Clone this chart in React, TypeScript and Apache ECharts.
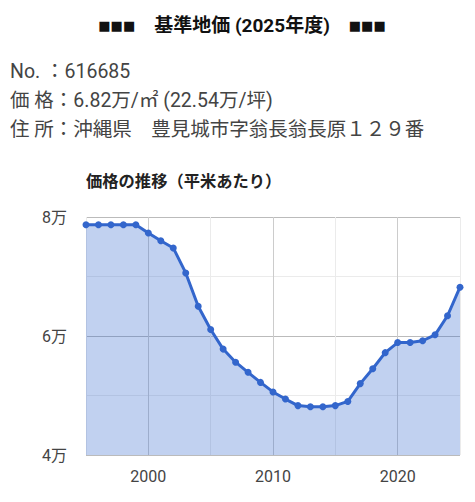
import React, { useEffect, useRef } from "react";
import * as echarts from "echarts";

const years = [
  1995, 1996, 1997, 1998, 1999, 2000, 2001, 2002, 2003, 2004, 2005, 2006, 2007, 2008, 2009, 2010,
  2011, 2012, 2013, 2014, 2015, 2016, 2017, 2018, 2019, 2020, 2021, 2022, 2023, 2024, 2025,
];
const prices = [
  7.87, 7.87, 7.87, 7.87, 7.87, 7.73, 7.6, 7.48, 7.06, 6.5, 6.11, 5.78, 5.56, 5.39, 5.22, 5.06,
  4.94, 4.83, 4.81, 4.81, 4.83, 4.9, 5.2, 5.45, 5.72, 5.89, 5.89, 5.92, 6.02, 6.34, 6.82,
];
const titleText = "基準地価 (2025年度)";
const infoLines = [
  "No. ：616685",
  "価 格：6.82万/㎡ (22.54万/坪)",
  "住 所：沖縄県　豊見城市字翁長翁長原１２９番",
];
const chartTitle = "価格の推移（平米あたり）";

const FONT = 'Roboto, "Noto Sans CJK JP", sans-serif';

export default function App() {
  const ref = useRef<HTMLDivElement>(null);
  useEffect(() => {
    if (!ref.current) return;
    const chart = echarts.init(ref.current, null, { renderer: "svg" });
    const data = years.map((y, i) => [y, prices[i]]);
    chart.setOption({
      animation: false,
      grid: { left: 86, right: 15, top: 217, bottom: 47 },
      graphic: [
        {
          type: "text",
          x: 242,
          y: 25,
          style: {
            text: "{sq|■■■}　" + titleText + "　{sq|■■■}",
            font: "bold 19px " + FONT,
            fill: "#111",
            textAlign: "center",
            textVerticalAlign: "middle",
            rich: {
              sq: { fontFamily: "DejaVu Sans", fontSize: 13, fontWeight: "bold", fill: "#111" },
            },
          },
        },
        ...infoLines.map((t, i) => ({
          type: "text",
          x: 10,
          y: 71 + i * 29,
          style: {
            text: t,
            font: "19.5px " + FONT,
            fill: "#444",
            textAlign: "left",
            textVerticalAlign: "middle",
          },
        })),
        {
          type: "text",
          x: 86,
          y: 181,
          style: {
            text: chartTitle,
            font: "bold 16.3px " + FONT,
            fill: "#222",
            textAlign: "left",
            textVerticalAlign: "middle",
          },
        },
      ],
      xAxis: {
        type: "value",
        min: 1995,
        max: 2025,
        interval: 5,
        axisLine: { show: false },
        axisTick: { show: false },
        axisLabel: {
          color: "#444",
          fontSize: 16,
          fontFamily: FONT,
          margin: 13,
          formatter: (v: number) => (v % 10 === 0 ? String(v) : ""),
        },
        splitLine: { show: true, lineStyle: { color: ["#ebebeb", "#cccccc"], width: 1 } },
      },
      yAxis: {
        type: "value",
        min: 4,
        max: 8,
        interval: 1,
        axisLine: { show: false },
        axisTick: { show: false },
        axisLabel: {
          color: "#444",
          fontSize: 16,
          fontFamily: FONT,
          margin: 19,
          formatter: (v: number) => (v % 2 === 0 ? v + "万" : ""),
        },
        splitLine: { show: true, lineStyle: { color: ["#bbbbbb", "#ebebeb"], width: 1 } },
      },
      series: [
        {
          type: "line",
          data,
          symbol: "circle",
          symbolSize: 7,
          showSymbol: true,
          lineStyle: { color: "#3366cc", width: 3 },
          itemStyle: { color: "#3366cc" },
          areaStyle: { color: "#3366cc", opacity: 0.3, origin: "start" },
        },
      ],
    });
    return () => chart.dispose();
  }, []);
  return (
    <div
      ref={ref}
      style={{ position: "fixed", left: 0, top: 0, width: 475, height: 502, background: "#fff" }}
    />
  );
}
